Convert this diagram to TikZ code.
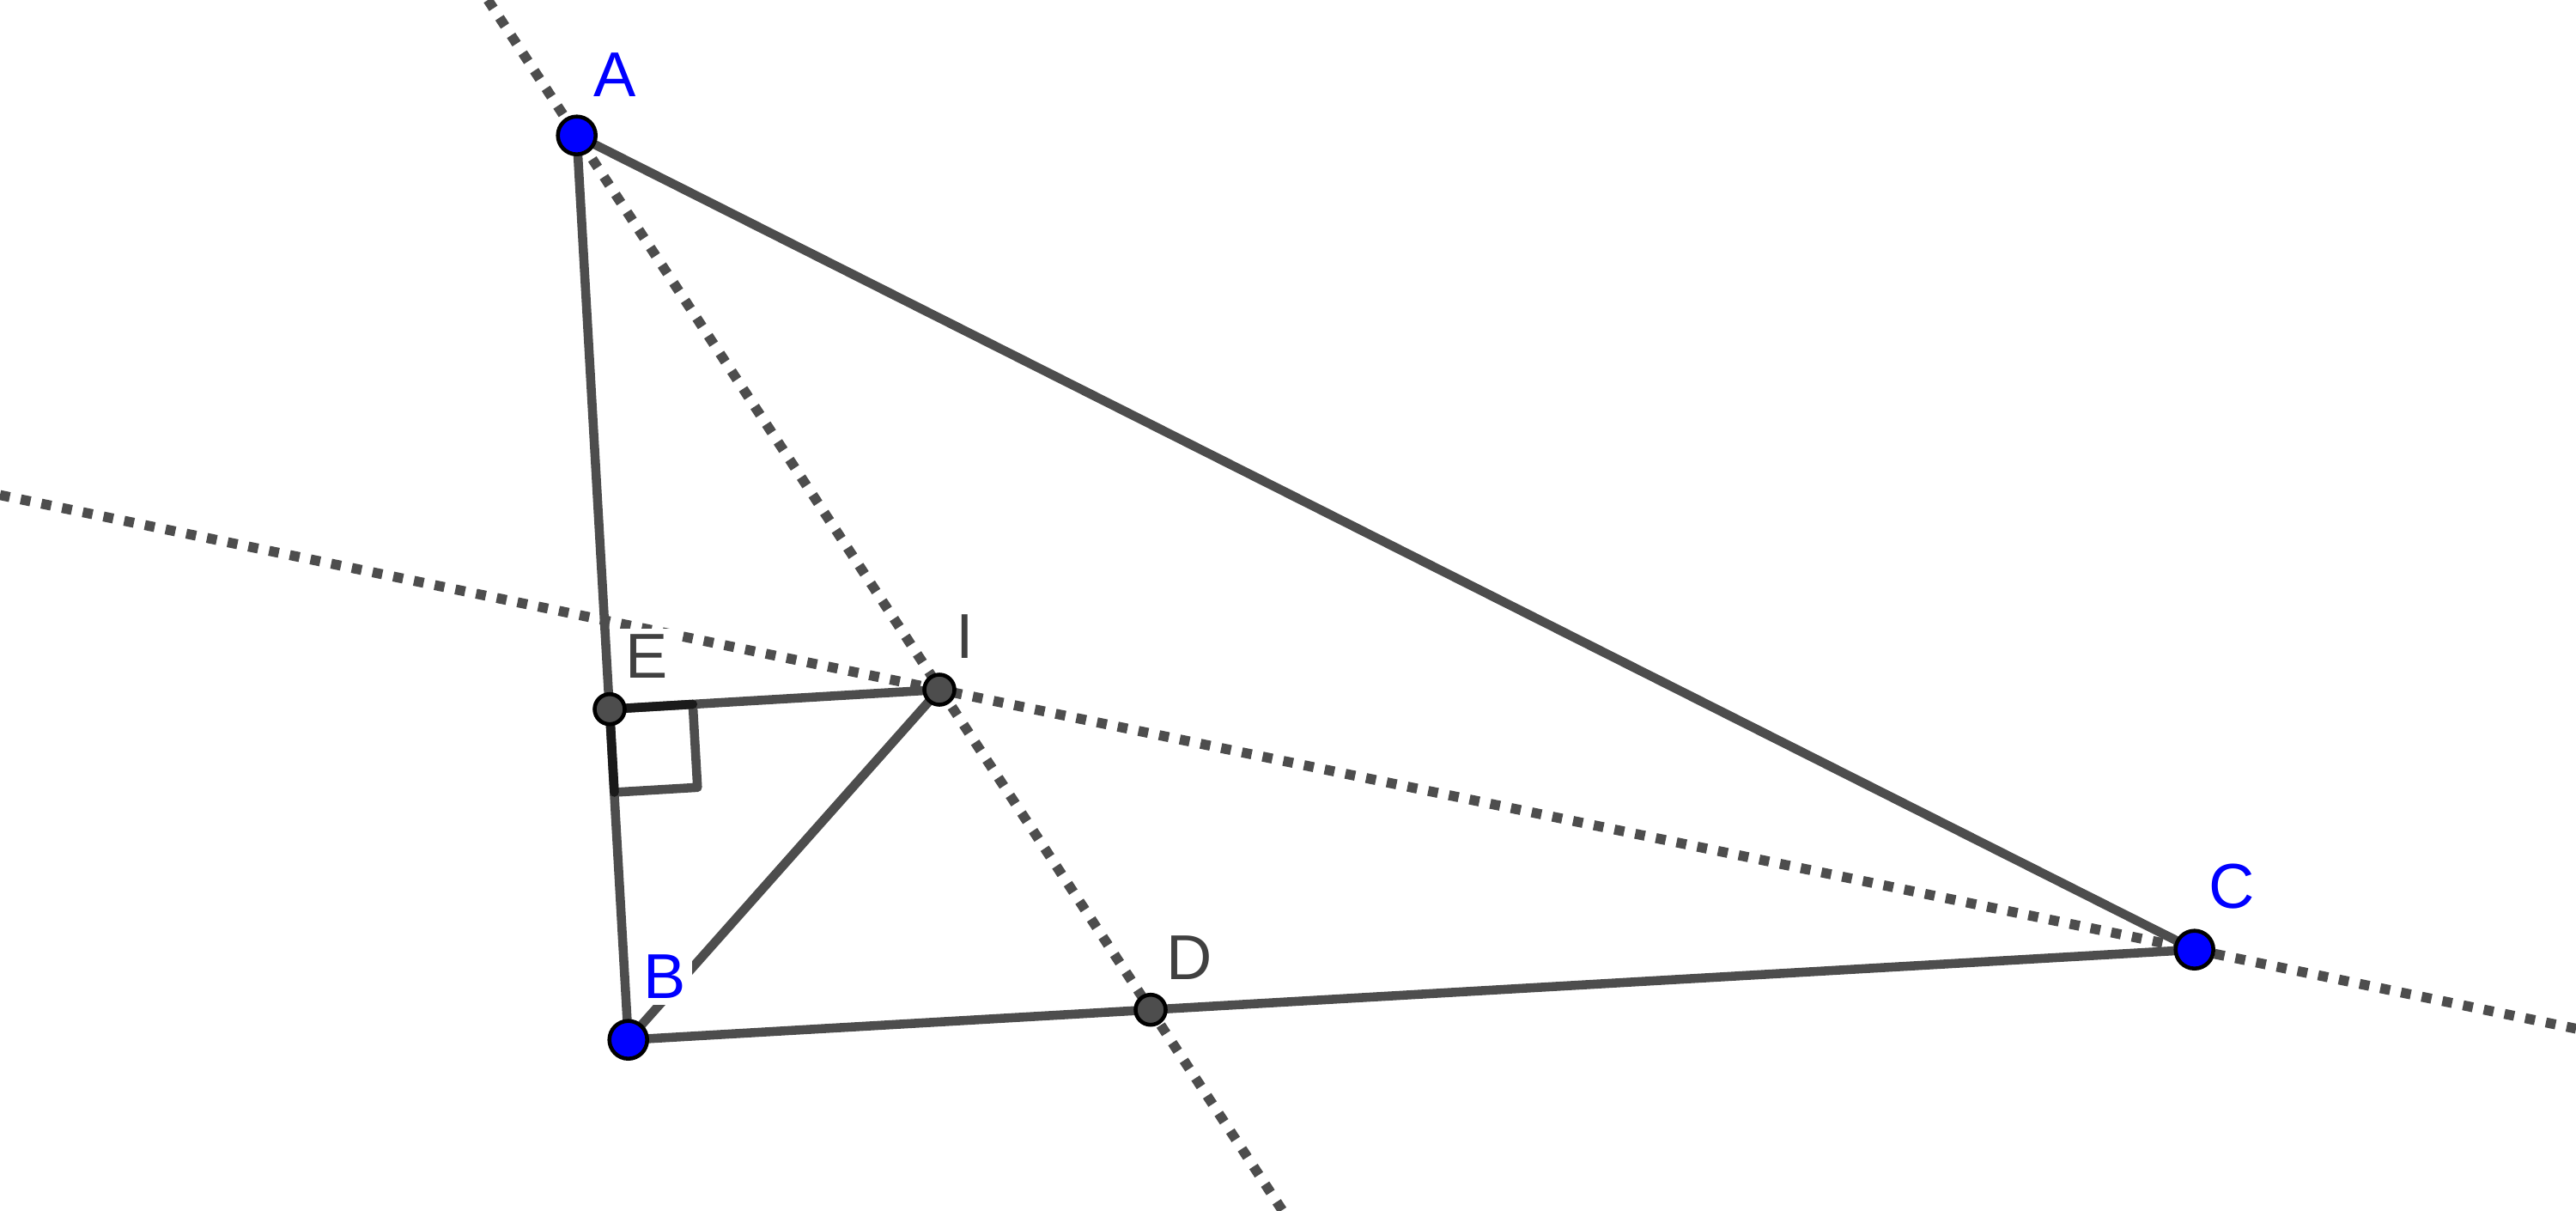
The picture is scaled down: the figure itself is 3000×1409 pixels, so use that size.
\documentclass[tikz,border=0pt]{standalone}
\usepackage{fontspec}
\setmainfont{Liberation Sans}
\definecolor{linegray}{RGB}{77,77,77}
\definecolor{labgray}{RGB}{64,64,64}
\definecolor{markblack}{RGB}{26,26,26}
\begin{document}
\begin{tikzpicture}[x=0.01cm,y=-0.01cm]
\tikzstyle{every node}+=[inner sep=2pt,font=\fontsize{21}{25}\selectfont]
\tikzstyle{seg}=[linegray,line width=3pt,line cap=round]
\tikzstyle{bis}=[linegray,line width=3.3pt,dash pattern=on 3.3pt off 3.7pt]
\tikzstyle{ptblue}=[fill=blue,draw=black,line width=1.3pt]
\tikzstyle{ptgray}=[fill=linegray,draw=black,line width=1.3pt]
\tikzstyle{lab}=[fill=white]
\useasboundingbox (0,0) rectangle (3000,1409);
\coordinate (A) at (671.7,157.7);
\coordinate (B) at (731.7,1210.7);
\coordinate (C) at (2555.7,1105.7);
\coordinate (I) at (1094,803);
\coordinate (E) at (710,825.7);
\coordinate (D) at (1340,1175.7);
\coordinate (ad1) at (568.2,0);
\coordinate (ad2) at (1493.2,1409);
\coordinate (ci1) at (0,576.4);
\coordinate (ci2) at (3000,1197.7);
\coordinate (r1) at (806.8,820);
\coordinate (r2) at (812.3,916.8);
\coordinate (r3) at (715.5,922.5);
\draw [bis] (ad1) -- (ad2);
\draw [bis] (ci1) -- (ci2);
\draw [seg] (A) -- (B) -- (C) -- cycle;
\draw [seg] (E) -- (I) -- (B);
\draw [seg,line join=round] (r1) -- (r2) -- (r3);
\draw [seg,markblack,line join=round] (r1) -- (E) -- (r3);
\draw [ptblue] (A) circle (22);
\draw [ptblue] (B) circle (22);
\draw [ptblue] (C) circle (22);
\draw [ptgray] (E) circle (17.5);
\draw [ptgray] (I) circle (17.5);
\draw [ptgray] (D) circle (17.5);
\node [lab,text=blue] (lA) at (715.7,86.7) {A};
\node [lab,text=blue] (lB) at (774,1137.5) {B};
\node [lab,text=blue] (lC) at (2599,1032) {C};
\node [lab,text=labgray] (lD) at (1385,1115) {D};
\node [lab,text=labgray] (lE) at (752.7,764) {E};
\node [lab,text=labgray] (lI) at (1124,741.3) {I};
\end{tikzpicture}
\end{document}
